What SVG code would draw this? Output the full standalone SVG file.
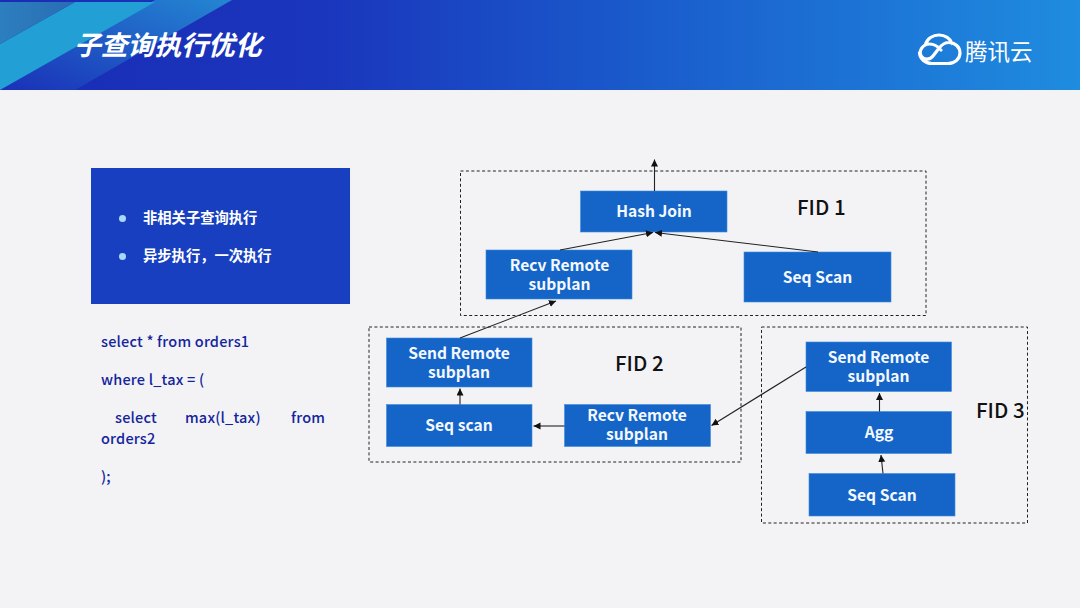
<svg xmlns="http://www.w3.org/2000/svg" width="1080" height="608" viewBox="0 0 1080 608">
  <style>
    text { font-family: "Noto Sans CJK SC", "Noto Sans", sans-serif; }
    .node { fill: #1565c8; stroke: #3f8ade; stroke-width: 0.6; }
    .label { fill: #f4f8ff; font-size: 15.600px; font-weight: 700; text-anchor: middle; }
    .frame { fill: none; stroke: #222; stroke-width: 1; stroke-dasharray: 3 2.4; }
    .fid { fill: #111; font-size: 20.500px; font-weight: 500; }
    .link { fill: none; stroke: #222; stroke-width: 1.1; marker-end: url(#head); }
    .sql { fill: #14259c; font-size: 14.500px; font-weight: 500; letter-spacing: 0.2px; }
    .bullet { fill: #fff; font-size: 14.300px; font-weight: 700; }
  </style>
  <defs>
    <linearGradient id="band" x1="0" y1="0" x2="1" y2="0">
      <stop offset="0" stop-color="#1a2cb6"/>
      <stop offset="0.3" stop-color="#1a36bc"/>
      <stop offset="0.6" stop-color="#1a5ccc"/>
      <stop offset="1" stop-color="#1f8cdf"/>
    </linearGradient>
    <linearGradient id="ribbon" x1="0" y1="1" x2="1" y2="0">
      <stop offset="0" stop-color="#1a30b8"/>
      <stop offset="1" stop-color="#2486d2"/>
    </linearGradient>
    <linearGradient id="corner" x1="0" y1="0" x2="1" y2="0">
      <stop offset="0" stop-color="#2c7fbe"/>
      <stop offset="1" stop-color="#2a6cb4"/>
    </linearGradient>
    <marker id="head" markerUnits="userSpaceOnUse" markerWidth="8" markerHeight="8" refX="7" refY="3.500" orient="auto">
      <path d="M0 0L7 3.500L0 7Z" fill="#111"/>
    </marker>
  </defs>

  <rect width="1080" height="608" fill="#f3f3f6"/>

  <!-- header band -->
  <rect width="1080" height="90" fill="url(#band)"/>
  <polygon points="155,0 232,0 75,90 0,90" fill="url(#ribbon)"/>
  <polygon points="75,2 155,2 0,90 0,44" fill="#22a0d6"/>
  <polygon points="0,2 75,2 0,44" fill="url(#corner)"/>
  <text x="74" y="55" fill="#fff" font-size="26.800" font-weight="700" font-style="italic">子查询执行优化</text>

  <!-- brand mark -->
  <g id="brand">
    <path d="M932 63.500H948C955 63.500 960 58.500 960 53C960 47 955 42.500 949 42.500C945 42.500 942 44.500 939.500 47.500L933 56C930 60 924 60 921.500 56.500C918 51.500 922.500 44 929.500 44C934 44 938 46.500 941 50M925.500 44.500C927 38.500 933 35 939 35C945 35 950.500 38.500 952 43.500M932 63.500C925 63.500 919.500 58.500 919.500 52.500" fill="none" stroke="#fff" stroke-width="3.200" stroke-linecap="round" stroke-linejoin="round"/>
    <text x="965" y="60" fill="#fff" font-size="22.500" font-weight="400">腾讯云</text>
  </g>

  <!-- summary panel -->
  <g id="summary">
    <rect x="91" y="168" width="259" height="136" fill="#183fc0"/>
    <circle cx="122.500" cy="218.500" r="3.500" fill="#a9d8f8"/>
    <circle cx="122.500" cy="256.500" r="3.500" fill="#a9d8f8"/>
    <text class="bullet" x="143" y="222.500">非相关子查询执行</text>
    <text class="bullet" x="143" y="260.500">异步执行，一次执行</text>
  </g>

  <!-- query text -->
  <g id="query">
    <text class="sql" x="101" y="347">select * from orders1</text>
    <text class="sql" x="101" y="385">where l_tax = (</text>
    <text class="sql" x="115" y="423">select</text>
    <text class="sql" x="185" y="423">max(l_tax)</text>
    <text class="sql" x="291" y="423">from</text>
    <text class="sql" x="101" y="444">orders2</text>
    <text class="sql" x="101" y="482">);</text>
  </g>

  <!-- fragment frames -->
  <g id="fid1">
    <rect class="frame" x="460.500" y="171" width="465.500" height="144.500"/>
    <text class="fid" x="797" y="215">FID 1</text>
  </g>
  <g id="fid2">
    <rect class="frame" x="369" y="327" width="372" height="135"/>
    <text class="fid" x="615" y="371">FID 2</text>
  </g>
  <g id="fid3">
    <rect class="frame" x="761.500" y="327" width="266" height="196"/>
    <text class="fid" x="976" y="418">FID 3</text>
  </g>

  <!-- operators -->
  <g id="hash-join">
    <rect class="node" x="580.500" y="191" width="146.500" height="41"/>
    <text class="label" x="654" y="217">Hash Join</text>
  </g>
  <g id="recv-1">
    <rect class="node" x="486" y="250" width="146" height="49"/>
    <text class="label" x="559.500" y="270.500">Recv Remote<tspan x="559.500" dy="19">subplan</tspan></text>
  </g>
  <g id="seq-1">
    <rect class="node" x="744" y="252" width="147" height="50"/>
    <text class="label" x="817.500" y="282.500">Seq Scan</text>
  </g>
  <g id="send-2">
    <rect class="node" x="386.500" y="338" width="145.500" height="49"/>
    <text class="label" x="459" y="358.500">Send Remote<tspan x="459" dy="19">subplan</tspan></text>
  </g>
  <g id="seq-2">
    <rect class="node" x="386.500" y="404.500" width="145.500" height="42"/>
    <text class="label" x="459" y="431">Seq scan</text>
  </g>
  <g id="recv-2">
    <rect class="node" x="564.500" y="404.500" width="146" height="42"/>
    <text class="label" x="637" y="421">Recv Remote<tspan x="637" dy="18.500">subplan</tspan></text>
  </g>
  <g id="send-3">
    <rect class="node" x="806" y="342" width="145.500" height="49.500"/>
    <text class="label" x="878.500" y="362.500">Send Remote<tspan x="878.500" dy="19">subplan</tspan></text>
  </g>
  <g id="agg">
    <rect class="node" x="806" y="411.500" width="145.500" height="42"/>
    <text class="label" x="879" y="438">Agg</text>
  </g>
  <g id="seq-3">
    <rect class="node" x="809" y="473.500" width="146" height="42.500"/>
    <text class="label" x="882" y="500.500">Seq Scan</text>
  </g>

  <!-- connectors -->
  <g id="connectors">
    <path class="link" d="M654.500 191V159.500"/>
    <path class="link" d="M560 250L653 232.500"/>
    <path class="link" d="M818 252L655 232.500"/>
    <path class="link" d="M460 338L556 301"/>
    <path class="link" d="M460 404.500V388.500"/>
    <path class="link" d="M564.500 426H533.500"/>
    <path class="link" d="M806 367L711.500 425.500"/>
    <path class="link" d="M879.500 411.500V393"/>
    <path class="link" d="M883 473.500L881 455"/>
  </g>
</svg>
